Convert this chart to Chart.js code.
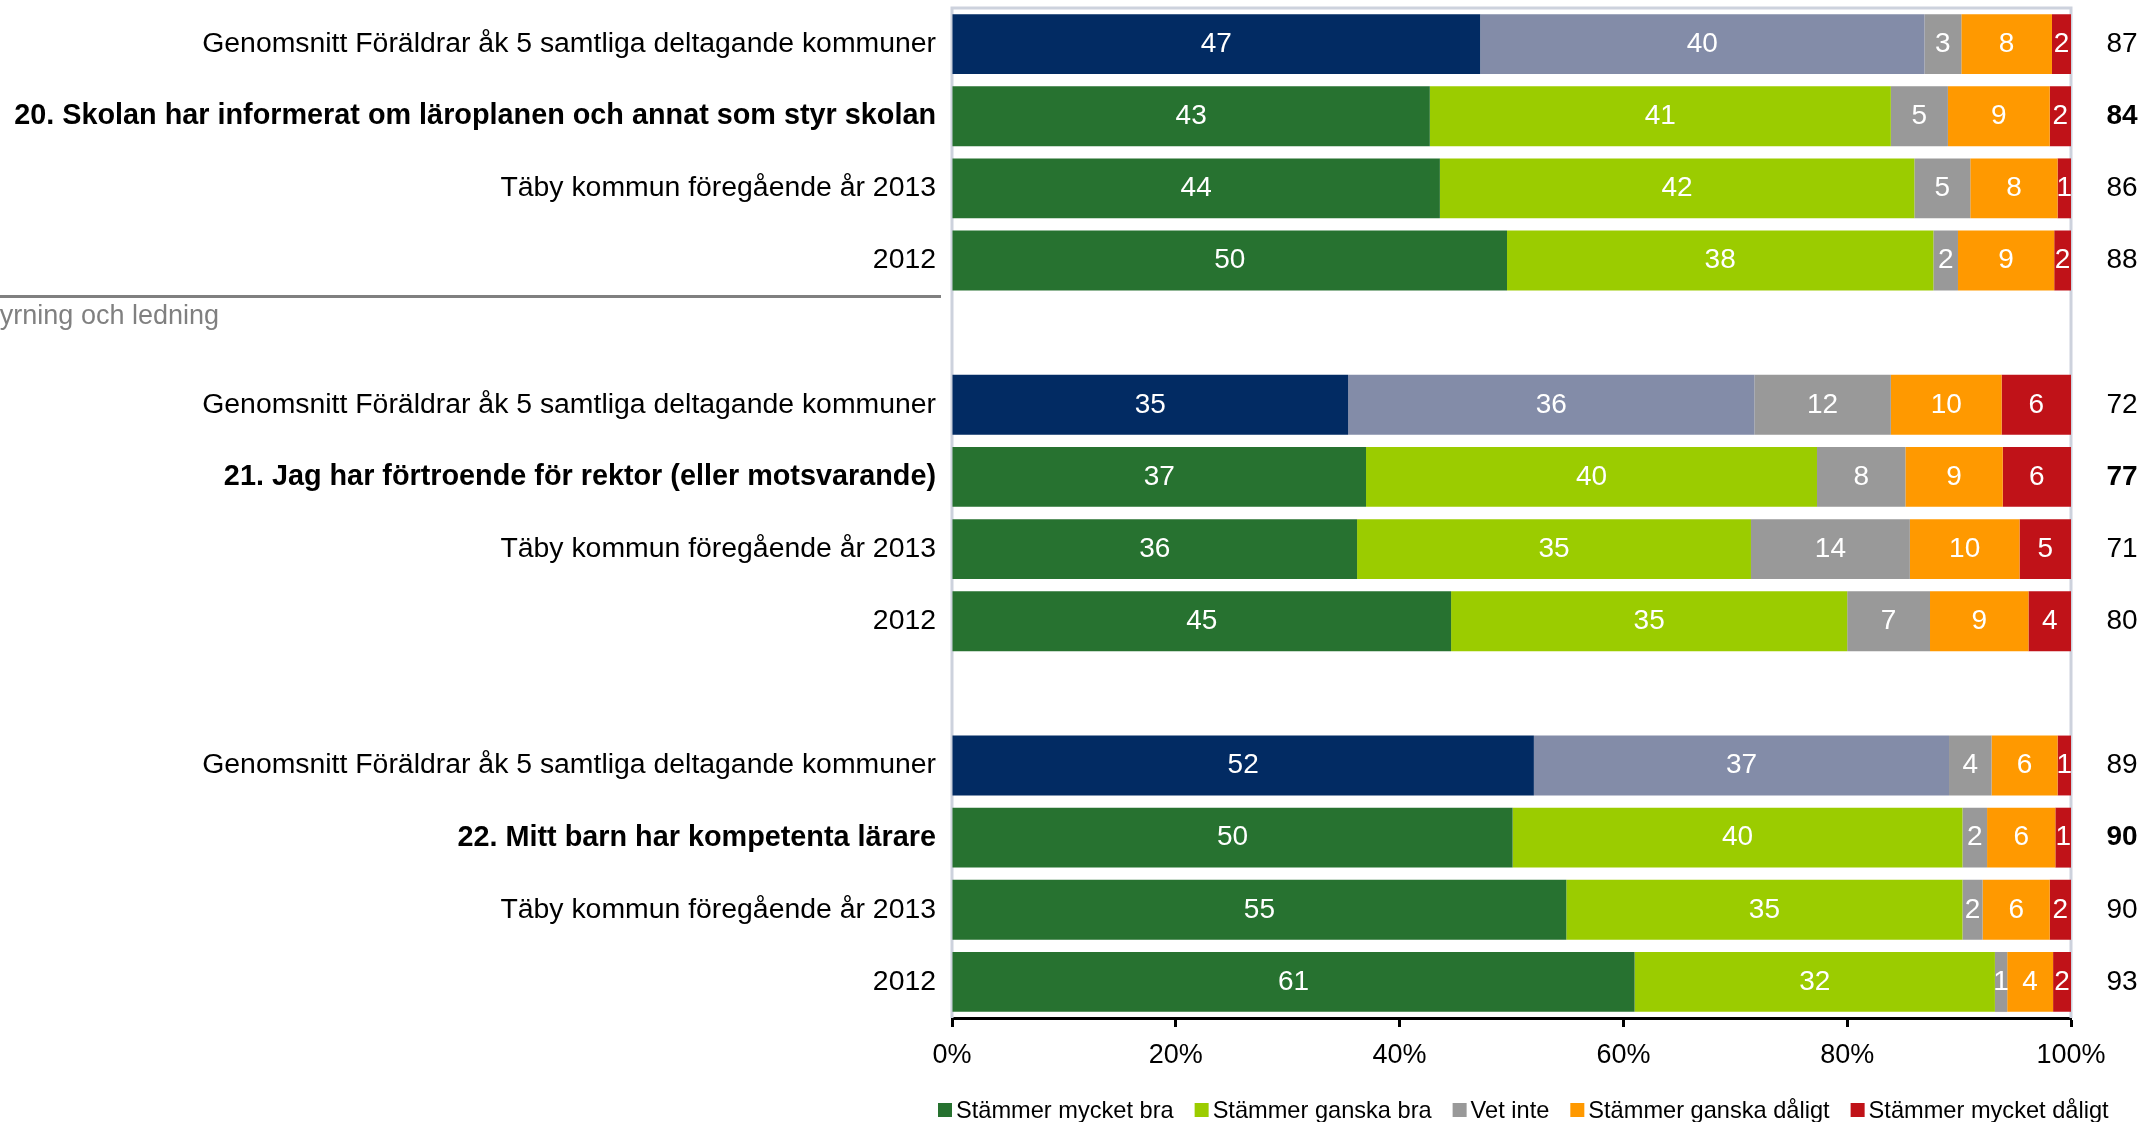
<!DOCTYPE html>
<html>
<head>
<meta charset="utf-8">
<script src="https://cdn.jsdelivr.net/npm/chart.js@4.4.1/dist/chart.umd.min.js"></script>
<style>
  html, body { margin: 0; padding: 0; background: #fff; }
  canvas { display: block; }
</style>
</head>
<body>
<canvas id="chart" width="2146" height="1122"></canvas>
<script>
// Rader uppifrån och ned (tomma rader = mellanrum mellan frågorna)
const categories = [
  'Genomsnitt Föräldrar åk 5 samtliga deltagande kommuner',
  '20. Skolan har informerat om läroplanen och annat som styr skolan',
  'Täby kommun föregående år 2013',
  '2012',
  '',
  'Genomsnitt Föräldrar åk 5 samtliga deltagande kommuner',
  '21. Jag har förtroende för rektor (eller motsvarande)',
  'Täby kommun föregående år 2013',
  '2012',
  '',
  'Genomsnitt Föräldrar åk 5 samtliga deltagande kommuner',
  '22. Mitt barn har kompetenta lärare',
  'Täby kommun föregående år 2013',
  '2012',
];

const mycketBra    = [47.2, 42.7, 43.6, 49.6, null, 35.4, 37.0, 36.2, 44.6, null, 52.0, 50.1, 54.9, 61.0];
const ganskaBra    = [39.7, 41.2, 42.4, 38.1, null, 36.3, 40.3, 35.2, 35.4, null, 37.1, 40.2, 35.4, 32.2];
const vetInte      = [ 3.3,  5.1,  5.0,  2.2, null, 12.2,  7.9, 14.2,  7.4, null,  3.8,  2.2,  1.8,  1.1];
const ganskaDaligt = [ 8.1,  9.1,  7.8,  8.6, null,  9.9,  8.7,  9.8,  8.8, null,  5.9,  6.1,  6.0,  4.1];
const mycketDaligt = [ 1.7,  1.9,  1.2,  1.5, null,  6.2,  6.1,  4.6,  3.8, null,  1.2,  1.4,  1.9,  1.6];

// Summa "Stämmer mycket/ganska bra" till höger
const totals = [87, 84, 86, 88, null, 72, 77, 71, 80, null, 89, 90, 90, 93];

const xTicks = [0, 20, 40, 60, 80, 100];

const avgRows      = [0, 5, 10];   // genomsnitt -> blå färger
const questionRows = [1, 6, 11];   // frågorna -> fet stil

const FONT = "'Liberation Sans', Arial, sans-serif";

const COLORS = {
  mycketBra:    '#277230',
  ganskaBra:    '#9bcc00',
  vetInte:      '#999999',
  ganskaDaligt: '#ff9900',
  mycketDaligt: '#c01218',
  avgDark:      '#022b63',
  avgLight:     '#838ca8',
};

const plotFrame = {
  id: 'plotFrame',
  beforeDatasetsDraw(chart) {
    const { ctx, chartArea: a } = chart;
    ctx.save();
    ctx.strokeStyle = '#cdd2dd';
    ctx.lineWidth = 3;
    ctx.beginPath();
    ctx.moveTo(a.left, a.bottom);
    ctx.lineTo(a.left, a.top);
    ctx.lineTo(a.right, a.top);
    ctx.lineTo(a.right, a.bottom);
    ctx.stroke();
    ctx.restore();
  },
};

const sectionHeader = {
  id: 'sectionHeader',
  afterDraw(chart) {
    const { ctx, chartArea: a } = chart;
    const y = chart.scales.y;
    const lineY = (y.getPixelForValue(3) + y.getPixelForValue(4)) / 2;
    ctx.save();
    ctx.strokeStyle = '#808080';
    ctx.lineWidth = 3;
    ctx.beginPath();
    ctx.moveTo(0, lineY);
    ctx.lineTo(a.left - 11, lineY);
    ctx.stroke();
    ctx.fillStyle = '#808080';
    ctx.font = `27px ${FONT}`;
    ctx.textAlign = 'right';
    ctx.textBaseline = 'middle';
    ctx.fillText('Styrning och ledning', 219, lineY + 20);
    ctx.restore();
  },
};

const barLabels = {
  id: 'barLabels',
  afterDatasetsDraw(chart) {
    const { ctx } = chart;
    ctx.save();
    ctx.font = `28px ${FONT}`;
    ctx.fillStyle = '#fff';
    ctx.textAlign = 'center';
    ctx.textBaseline = 'middle';
    chart.data.datasets.forEach((ds, i) => {
      chart.getDatasetMeta(i).data.forEach((bar, j) => {
        const v = ds.data[j];
        if (v == null) return;
        ctx.fillText(String(Math.round(v)), (bar.x + bar.base) / 2, bar.y);
      });
    });
    ctx.restore();
  },
};

const totalLabels = {
  id: 'totalLabels',
  afterDraw(chart) {
    const { ctx, chartArea: a } = chart;
    const y = chart.scales.y;
    ctx.save();
    ctx.fillStyle = '#000';
    ctx.textAlign = 'center';
    ctx.textBaseline = 'middle';
    totals.forEach((t, j) => {
      if (t == null) return;
      ctx.font = `${questionRows.includes(j) ? 'bold ' : ''}28px ${FONT}`;
      ctx.fillText(String(t), a.right + 51, y.getPixelForValue(j));
    });
    ctx.restore();
  },
};

const bottomLegend = {
  id: 'bottomLegend',
  afterDraw(chart) {
    const { ctx } = chart;
    const yc = 1110;
    let x = 938;
    ctx.save();
    ctx.font = `23.6px ${FONT}`;
    ctx.textAlign = 'left';
    ctx.textBaseline = 'middle';
    chart.data.datasets.forEach(ds => {
      ctx.fillStyle = ds.legendColor;
      ctx.fillRect(x, yc - 7, 14, 14);
      ctx.fillStyle = '#000';
      ctx.fillText(ds.label, x + 18, yc + 1);
      x += 18 + ctx.measureText(ds.label).width + 21;
    });
    ctx.restore();
  },
};

const rowColor = (avgColor, color) => ctx => avgRows.includes(ctx.dataIndex) ? avgColor : color;

new Chart(document.getElementById('chart'), {
  type: 'bar',
  data: {
    labels: categories,
    datasets: [
      { label: 'Stämmer mycket bra',    data: mycketBra,    legendColor: COLORS.mycketBra,
        backgroundColor: rowColor(COLORS.avgDark, COLORS.mycketBra) },
      { label: 'Stämmer ganska bra',    data: ganskaBra,    legendColor: COLORS.ganskaBra,
        backgroundColor: rowColor(COLORS.avgLight, COLORS.ganskaBra) },
      { label: 'Vet inte',              data: vetInte,      legendColor: COLORS.vetInte,
        backgroundColor: COLORS.vetInte },
      { label: 'Stämmer ganska dåligt', data: ganskaDaligt, legendColor: COLORS.ganskaDaligt,
        backgroundColor: COLORS.ganskaDaligt },
      { label: 'Stämmer mycket dåligt', data: mycketDaligt, legendColor: COLORS.mycketDaligt,
        backgroundColor: COLORS.mycketDaligt },
    ],
  },
  options: {
    indexAxis: 'y',
    responsive: false,
    animation: false,
    devicePixelRatio: 1,
    layout: { padding: { top: 8, right: 75, bottom: 0, left: 0 } },
    datasets: { bar: { categoryPercentage: 1, barPercentage: 0.83, borderWidth: 0 } },
    plugins: { legend: { display: false }, tooltip: { enabled: false } },
    scales: {
      x: {
        stacked: true,
        min: 0,
        max: 100,
        afterBuildTicks: s => { s.ticks = xTicks.map(v => ({ value: v })); },
        afterFit: s => { s.height = 104; },
        border: { display: true, color: '#000', width: 3 },
        grid: { drawOnChartArea: false, drawTicks: true, tickLength: 9, tickColor: '#000', tickWidth: 3 },
        ticks: {
          color: '#000',
          font: { family: FONT, size: 27 },
          padding: 12,
          maxRotation: 0,
          callback: v => `${v}%`,
        },
      },
      y: {
        stacked: true,
        afterFit: s => { s.width = 952; s.paddingTop = 0; s.paddingBottom = 0; },
        border: { display: false },
        grid: { display: false },
        ticks: {
          color: '#000',
          padding: 8,
          autoSkip: false,
          font: ctx => questionRows.includes(ctx.index)
            ? { family: FONT, size: 28.8, weight: 'bold' }
            : { family: FONT, size: 28.4, weight: 'normal' },
        },
      },
    },
  },
  plugins: [plotFrame, barLabels, totalLabels, sectionHeader, bottomLegend],
});
</script>
</body>
</html>
